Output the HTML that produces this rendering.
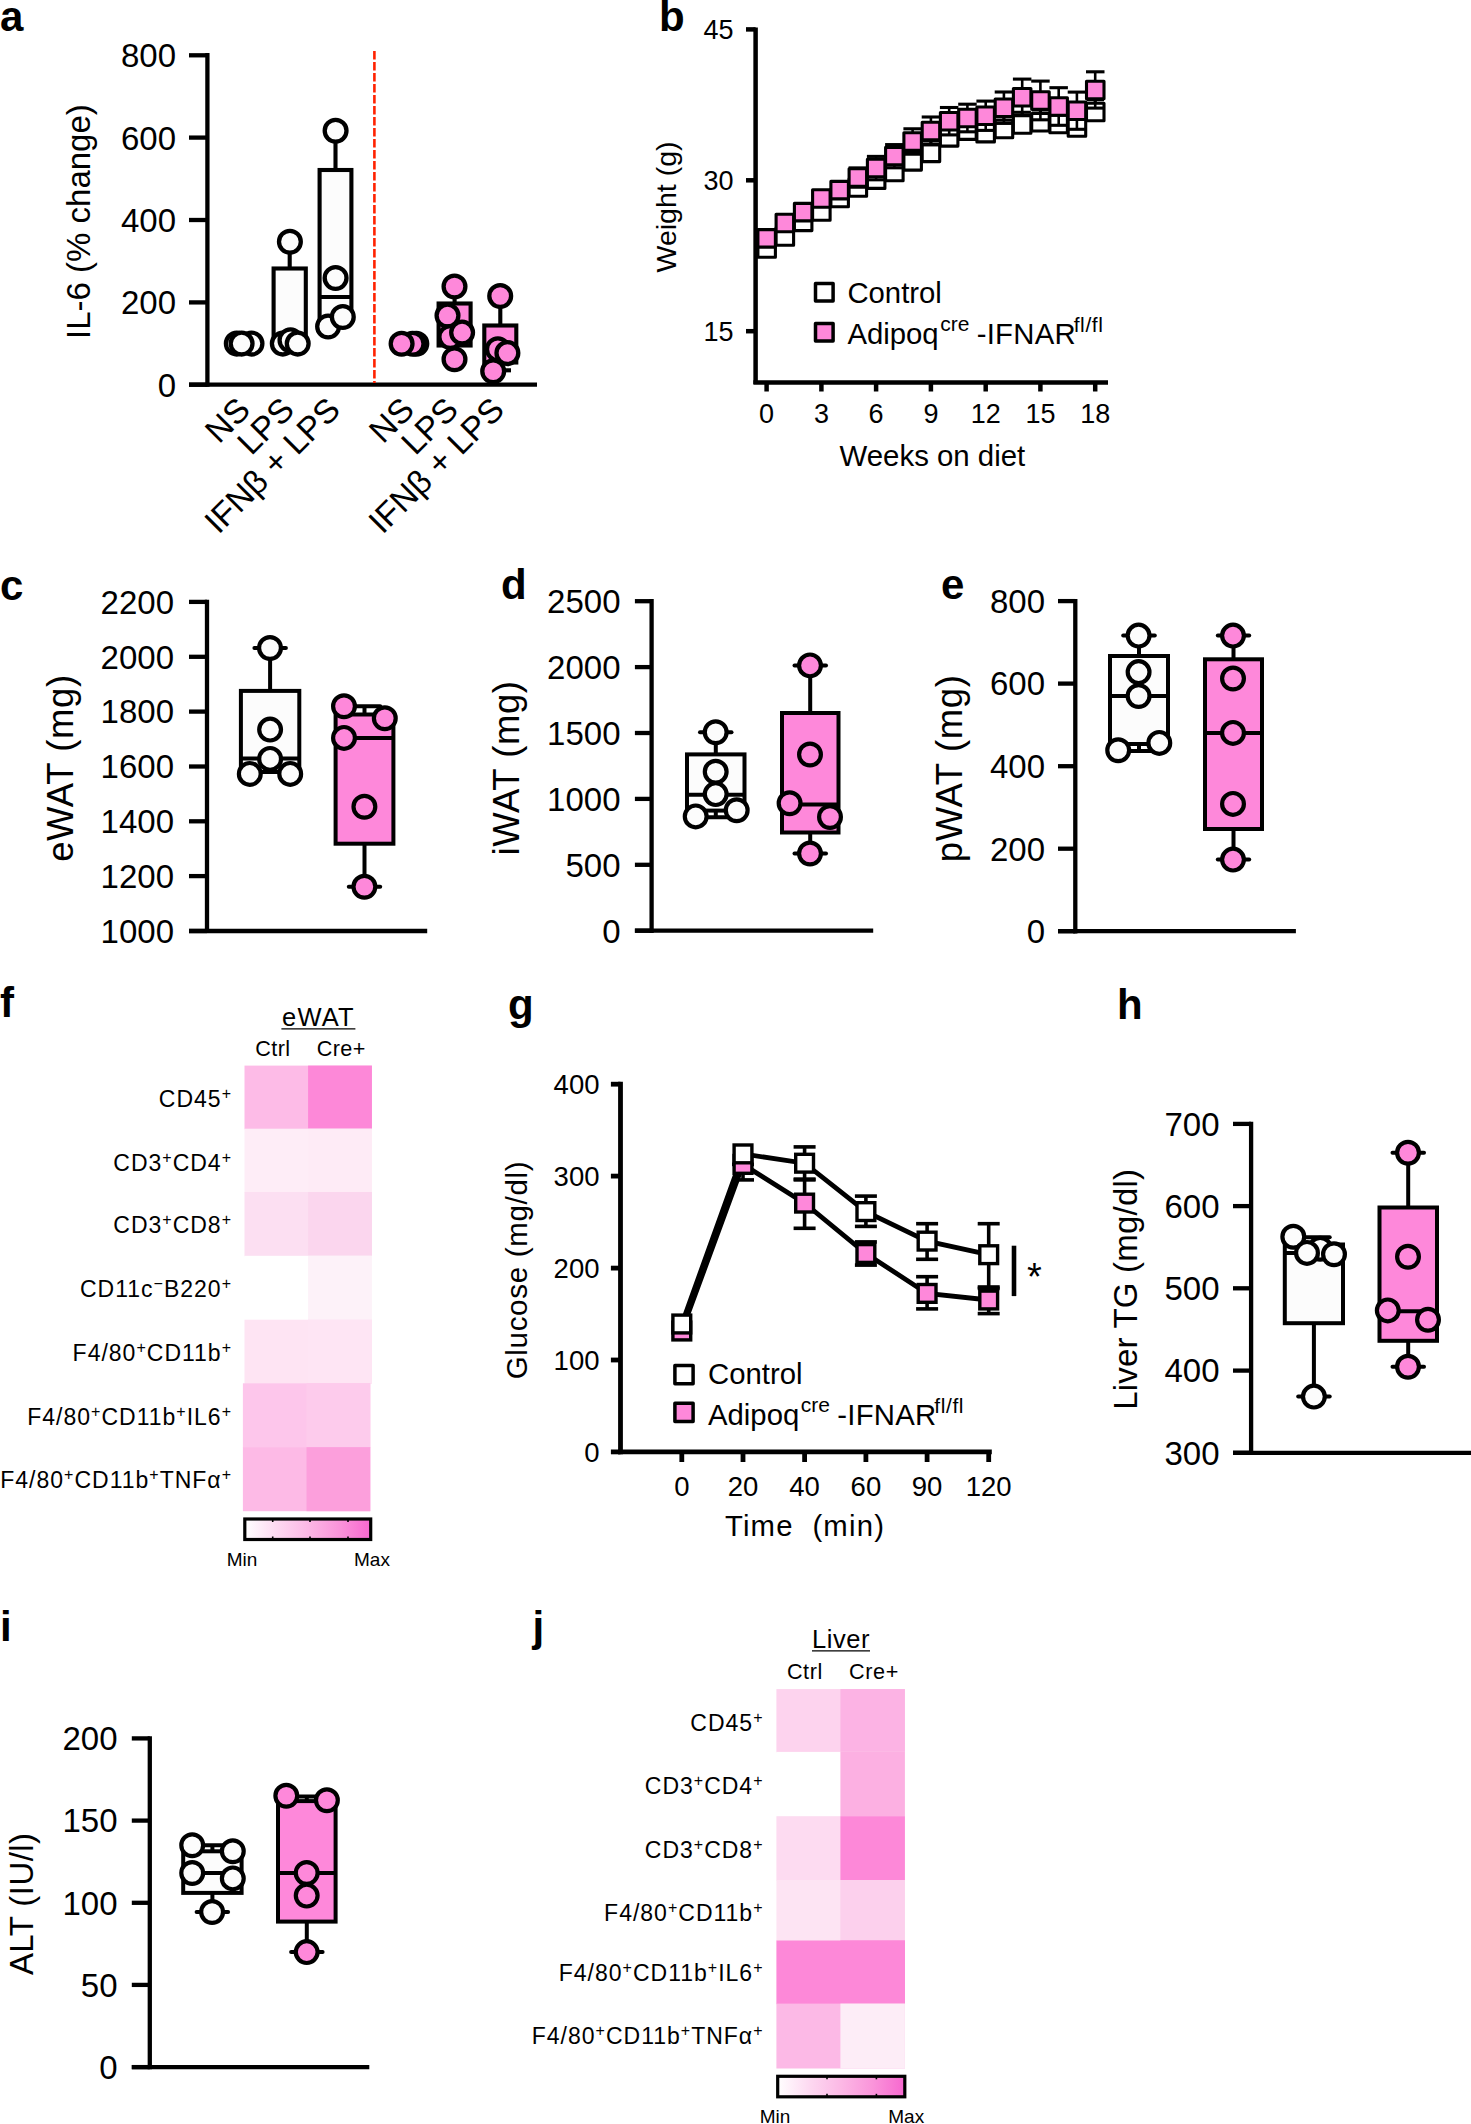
<!DOCTYPE html>
<html><head><meta charset="utf-8"><style>
html,body{margin:0;padding:0;background:#fff;}
svg{display:block;}
text{font-family:"Liberation Sans",sans-serif;fill:#000;}
</style></head><body>
<svg width="1471" height="2124" viewBox="0 0 1471 2124">
<defs><linearGradient id="cb" x1="0" x2="1" y1="0" y2="0">
<stop offset="0" stop-color="#ffffff"/><stop offset="0.25" stop-color="#fdd9f1"/><stop offset="0.5" stop-color="#fcb8e5"/><stop offset="0.75" stop-color="#fa94da"/><stop offset="1" stop-color="#f767cf"/>
</linearGradient></defs>
<rect width="1471" height="2124" fill="#fff"/>
<text x="0" y="31" font-size="42" font-weight="bold">a</text>
<line x1="207.4" y1="53.1" x2="207.4" y2="386.8" stroke="#000" stroke-width="4.3"/>
<line x1="189" y1="55.3" x2="207.4" y2="55.3" stroke="#000" stroke-width="4.3"/>
<text x="176" y="67.1" font-size="33" text-anchor="end">800</text>
<line x1="189" y1="137.6" x2="207.4" y2="137.6" stroke="#000" stroke-width="4.3"/>
<text x="176" y="149.5" font-size="33" text-anchor="end">600</text>
<line x1="189" y1="220" x2="207.4" y2="220" stroke="#000" stroke-width="4.3"/>
<text x="176" y="231.8" font-size="33" text-anchor="end">400</text>
<line x1="189" y1="302.4" x2="207.4" y2="302.4" stroke="#000" stroke-width="4.3"/>
<text x="176" y="314.2" font-size="33" text-anchor="end">200</text>
<line x1="189" y1="384.7" x2="207.4" y2="384.7" stroke="#000" stroke-width="4.3"/>
<text x="176" y="396.5" font-size="33" text-anchor="end">0</text>
<line x1="189" y1="384.7" x2="537" y2="384.7" stroke="#000" stroke-width="4.3"/>
<line x1="374.4" y1="51" x2="374.4" y2="383" stroke="#ff2200" stroke-width="2.6" stroke-dasharray="8.6,2.4"/>
<text x="90" y="221.6" font-size="33" text-anchor="middle" transform="rotate(-90 90 221.6)">IL-6 (% change)</text>
<circle cx="251.5" cy="343.6" r="10.9" fill="#fcfcfc" stroke="#000" stroke-width="4.3"/>
<circle cx="236.8" cy="343.6" r="10.9" fill="#fcfcfc" stroke="#000" stroke-width="4.3"/>
<circle cx="241.6" cy="343.6" r="10.9" fill="#fcfcfc" stroke="#000" stroke-width="4.3"/>
<line x1="289.7" y1="241.8" x2="289.7" y2="268.5" stroke="#000" stroke-width="4.1"/>
<rect x="273.6" y="268.5" width="32.2" height="75" fill="#fcfcfc" stroke="#000" stroke-width="4.1"/>
<circle cx="282.8" cy="343.6" r="10.9" fill="#fcfcfc" stroke="#000" stroke-width="4.3"/>
<circle cx="290.5" cy="340.2" r="10.9" fill="#fcfcfc" stroke="#000" stroke-width="4.3"/>
<circle cx="297.7" cy="343.6" r="10.9" fill="#fcfcfc" stroke="#000" stroke-width="4.3"/>
<circle cx="289.9" cy="241.8" r="10.9" fill="#fcfcfc" stroke="#000" stroke-width="4.3"/>
<line x1="335.5" y1="130.8" x2="335.5" y2="170" stroke="#000" stroke-width="4.1"/>
<rect x="319.6" y="170" width="31.8" height="150" fill="#fcfcfc" stroke="#000" stroke-width="4.1"/>
<line x1="319.6" y1="297" x2="351.4" y2="297" stroke="#000" stroke-width="4.1"/>
<circle cx="335.6" cy="130.8" r="10.9" fill="#fcfcfc" stroke="#000" stroke-width="4.3"/>
<circle cx="335.6" cy="278" r="10.9" fill="#fcfcfc" stroke="#000" stroke-width="4.3"/>
<circle cx="328.1" cy="326.5" r="10.9" fill="#fcfcfc" stroke="#000" stroke-width="4.3"/>
<circle cx="342.8" cy="317" r="10.9" fill="#fcfcfc" stroke="#000" stroke-width="4.3"/>
<circle cx="416.3" cy="343.7" r="10.9" fill="#fe88da" stroke="#000" stroke-width="4.3"/>
<circle cx="412.6" cy="343.7" r="10.9" fill="#fe88da" stroke="#000" stroke-width="4.3"/>
<circle cx="401.6" cy="343.7" r="10.9" fill="#fe88da" stroke="#000" stroke-width="4.3"/>
<line x1="454.6" y1="286.5" x2="454.6" y2="303.5" stroke="#000" stroke-width="4.1"/>
<line x1="454.6" y1="345.5" x2="454.6" y2="359.2" stroke="#000" stroke-width="4.1"/>
<rect x="438.6" y="303.5" width="32" height="42" fill="#fe88da" stroke="#000" stroke-width="4.1"/>
<line x1="438.6" y1="333" x2="470.6" y2="333" stroke="#000" stroke-width="4.1"/>
<circle cx="454.5" cy="286.5" r="10.9" fill="#fe88da" stroke="#000" stroke-width="4.3"/>
<circle cx="447.5" cy="315.6" r="10.9" fill="#fe88da" stroke="#000" stroke-width="4.3"/>
<circle cx="450.3" cy="337" r="10.9" fill="#fe88da" stroke="#000" stroke-width="4.3"/>
<circle cx="462.1" cy="332.6" r="10.9" fill="#fe88da" stroke="#000" stroke-width="4.3"/>
<circle cx="454.5" cy="359.2" r="10.9" fill="#fe88da" stroke="#000" stroke-width="4.3"/>
<line x1="500.3" y1="296" x2="500.3" y2="325.5" stroke="#000" stroke-width="4.1"/>
<line x1="500.3" y1="362.5" x2="500.3" y2="370.3" stroke="#000" stroke-width="4.1"/>
<rect x="484.3" y="325.5" width="32" height="37" fill="#fe88da" stroke="#000" stroke-width="4.1"/>
<line x1="484.3" y1="350" x2="516.3" y2="350" stroke="#000" stroke-width="4.1"/>
<line x1="500.3" y1="370.3" x2="511" y2="370.3" stroke="#000" stroke-width="4.1"/>
<circle cx="500.2" cy="296" r="10.9" fill="#fe88da" stroke="#000" stroke-width="4.3"/>
<circle cx="497.9" cy="349.3" r="10.9" fill="#fe88da" stroke="#000" stroke-width="4.3"/>
<circle cx="507.4" cy="353.1" r="10.9" fill="#fe88da" stroke="#000" stroke-width="4.3"/>
<circle cx="493.2" cy="371.2" r="10.9" fill="#fe88da" stroke="#000" stroke-width="4.3"/>
<text x="252" y="411.8" font-size="33.5" text-anchor="end" transform="rotate(-45 252 411.8)">NS</text>
<text x="296" y="411.8" font-size="33.5" text-anchor="end" transform="rotate(-45 296 411.8)">LPS</text>
<text x="342" y="411.8" font-size="33.5" text-anchor="end" transform="rotate(-45 342 411.8)">IFN&#946; + LPS</text>
<text x="416" y="411.8" font-size="33.5" text-anchor="end" transform="rotate(-45 416 411.8)">NS</text>
<text x="460" y="411.8" font-size="33.5" text-anchor="end" transform="rotate(-45 460 411.8)">LPS</text>
<text x="506" y="411.8" font-size="33.5" text-anchor="end" transform="rotate(-45 506 411.8)">IFN&#946; + LPS</text>
<text x="659" y="31" font-size="42" font-weight="bold">b</text>
<line x1="755.6" y1="27.6" x2="755.6" y2="383.9" stroke="#000" stroke-width="4.5"/>
<line x1="746" y1="29.4" x2="755.6" y2="29.4" stroke="#000" stroke-width="4.5"/>
<text x="733.5" y="39.1" font-size="27" text-anchor="end">45</text>
<line x1="746" y1="180.3" x2="755.6" y2="180.3" stroke="#000" stroke-width="4.5"/>
<text x="733.5" y="190" font-size="27" text-anchor="end">30</text>
<line x1="746" y1="331.2" x2="755.6" y2="331.2" stroke="#000" stroke-width="4.5"/>
<text x="733.5" y="340.9" font-size="27" text-anchor="end">15</text>
<line x1="753.4" y1="382.6" x2="1108" y2="382.6" stroke="#000" stroke-width="4.5"/>
<line x1="766.6" y1="382.6" x2="766.6" y2="391.5" stroke="#000" stroke-width="4.5"/>
<text x="766.6" y="422.5" font-size="27" text-anchor="middle">0</text>
<line x1="821.4" y1="382.6" x2="821.4" y2="391.5" stroke="#000" stroke-width="4.5"/>
<text x="821.4" y="422.5" font-size="27" text-anchor="middle">3</text>
<line x1="876.1" y1="382.6" x2="876.1" y2="391.5" stroke="#000" stroke-width="4.5"/>
<text x="876.1" y="422.5" font-size="27" text-anchor="middle">6</text>
<line x1="930.9" y1="382.6" x2="930.9" y2="391.5" stroke="#000" stroke-width="4.5"/>
<text x="930.9" y="422.5" font-size="27" text-anchor="middle">9</text>
<line x1="985.7" y1="382.6" x2="985.7" y2="391.5" stroke="#000" stroke-width="4.5"/>
<text x="985.7" y="422.5" font-size="27" text-anchor="middle">12</text>
<line x1="1040.4" y1="382.6" x2="1040.4" y2="391.5" stroke="#000" stroke-width="4.5"/>
<text x="1040.4" y="422.5" font-size="27" text-anchor="middle">15</text>
<line x1="1095.2" y1="382.6" x2="1095.2" y2="391.5" stroke="#000" stroke-width="4.5"/>
<text x="1095.2" y="422.5" font-size="27" text-anchor="middle">18</text>
<text x="932.4" y="465.6" font-size="29.4" text-anchor="middle">Weeks on diet</text>
<text x="676" y="207" font-size="28.5" text-anchor="middle" transform="rotate(-90 676 207)">Weight (g)</text>
<line x1="766.6" y1="236.2" x2="766.6" y2="248.4" stroke="#000" stroke-width="3.1"/>
<line x1="757.9" y1="236.2" x2="775.4" y2="236.2" stroke="#000" stroke-width="3.1"/>
<line x1="784.9" y1="224.3" x2="784.9" y2="236.6" stroke="#000" stroke-width="3.1"/>
<line x1="776.1" y1="224.3" x2="793.6" y2="224.3" stroke="#000" stroke-width="3.1"/>
<line x1="803.1" y1="209.6" x2="803.1" y2="221.8" stroke="#000" stroke-width="3.1"/>
<line x1="794.4" y1="209.6" x2="811.9" y2="209.6" stroke="#000" stroke-width="3.1"/>
<line x1="821.4" y1="199.2" x2="821.4" y2="211.5" stroke="#000" stroke-width="3.1"/>
<line x1="812.6" y1="199.2" x2="830.1" y2="199.2" stroke="#000" stroke-width="3.1"/>
<line x1="839.6" y1="185.8" x2="839.6" y2="198" stroke="#000" stroke-width="3.1"/>
<line x1="830.9" y1="185.8" x2="848.4" y2="185.8" stroke="#000" stroke-width="3.1"/>
<line x1="857.9" y1="175.3" x2="857.9" y2="187.6" stroke="#000" stroke-width="3.1"/>
<line x1="849.1" y1="175.3" x2="866.6" y2="175.3" stroke="#000" stroke-width="3.1"/>
<line x1="876.1" y1="167.4" x2="876.1" y2="179.7" stroke="#000" stroke-width="3.1"/>
<line x1="867.4" y1="167.4" x2="884.9" y2="167.4" stroke="#000" stroke-width="3.1"/>
<line x1="894.4" y1="159.7" x2="894.4" y2="171.9" stroke="#000" stroke-width="3.1"/>
<line x1="885.6" y1="159.7" x2="903.1" y2="159.7" stroke="#000" stroke-width="3.1"/>
<line x1="912.6" y1="149.1" x2="912.6" y2="161.3" stroke="#000" stroke-width="3.1"/>
<line x1="903.9" y1="149.1" x2="921.4" y2="149.1" stroke="#000" stroke-width="3.1"/>
<line x1="930.9" y1="140.6" x2="930.9" y2="152.8" stroke="#000" stroke-width="3.1"/>
<line x1="922.2" y1="140.6" x2="939.7" y2="140.6" stroke="#000" stroke-width="3.1"/>
<line x1="949.2" y1="125.1" x2="949.2" y2="137.3" stroke="#000" stroke-width="3.1"/>
<line x1="940.4" y1="125.1" x2="957.9" y2="125.1" stroke="#000" stroke-width="3.1"/>
<line x1="967.4" y1="118.4" x2="967.4" y2="130.7" stroke="#000" stroke-width="3.1"/>
<line x1="958.7" y1="118.4" x2="976.2" y2="118.4" stroke="#000" stroke-width="3.1"/>
<line x1="985.7" y1="120.9" x2="985.7" y2="133.2" stroke="#000" stroke-width="3.1"/>
<line x1="976.9" y1="120.9" x2="994.4" y2="120.9" stroke="#000" stroke-width="3.1"/>
<line x1="1003.9" y1="116.8" x2="1003.9" y2="129" stroke="#000" stroke-width="3.1"/>
<line x1="995.2" y1="116.8" x2="1012.7" y2="116.8" stroke="#000" stroke-width="3.1"/>
<line x1="1022.2" y1="112.3" x2="1022.2" y2="124.6" stroke="#000" stroke-width="3.1"/>
<line x1="1013.4" y1="112.3" x2="1030.9" y2="112.3" stroke="#000" stroke-width="3.1"/>
<line x1="1040.4" y1="110" x2="1040.4" y2="122.2" stroke="#000" stroke-width="3.1"/>
<line x1="1031.7" y1="110" x2="1049.2" y2="110" stroke="#000" stroke-width="3.1"/>
<line x1="1058.7" y1="111.8" x2="1058.7" y2="124.1" stroke="#000" stroke-width="3.1"/>
<line x1="1049.9" y1="111.8" x2="1067.4" y2="111.8" stroke="#000" stroke-width="3.1"/>
<line x1="1076.9" y1="115.3" x2="1076.9" y2="127.6" stroke="#000" stroke-width="3.1"/>
<line x1="1068.2" y1="115.3" x2="1085.7" y2="115.3" stroke="#000" stroke-width="3.1"/>
<line x1="1095.2" y1="99.7" x2="1095.2" y2="111.9" stroke="#000" stroke-width="3.1"/>
<line x1="1086.5" y1="99.7" x2="1104" y2="99.7" stroke="#000" stroke-width="3.1"/>
<rect x="757.9" y="239.7" width="17.5" height="17.5" fill="#fff" stroke="#000" stroke-width="3.1" stroke-linejoin="round"/>
<rect x="776.1" y="227.8" width="17.5" height="17.5" fill="#fff" stroke="#000" stroke-width="3.1" stroke-linejoin="round"/>
<rect x="794.4" y="213.1" width="17.5" height="17.5" fill="#fff" stroke="#000" stroke-width="3.1" stroke-linejoin="round"/>
<rect x="812.6" y="202.8" width="17.5" height="17.5" fill="#fff" stroke="#000" stroke-width="3.1" stroke-linejoin="round"/>
<rect x="830.9" y="189.2" width="17.5" height="17.5" fill="#fff" stroke="#000" stroke-width="3.1" stroke-linejoin="round"/>
<rect x="849.1" y="178.8" width="17.5" height="17.5" fill="#fff" stroke="#000" stroke-width="3.1" stroke-linejoin="round"/>
<rect x="867.4" y="170.9" width="17.5" height="17.5" fill="#fff" stroke="#000" stroke-width="3.1" stroke-linejoin="round"/>
<rect x="885.6" y="163.2" width="17.5" height="17.5" fill="#fff" stroke="#000" stroke-width="3.1" stroke-linejoin="round"/>
<rect x="903.9" y="152.6" width="17.5" height="17.5" fill="#fff" stroke="#000" stroke-width="3.1" stroke-linejoin="round"/>
<rect x="922.2" y="144.1" width="17.5" height="17.5" fill="#fff" stroke="#000" stroke-width="3.1" stroke-linejoin="round"/>
<rect x="940.4" y="128.6" width="17.5" height="17.5" fill="#fff" stroke="#000" stroke-width="3.1" stroke-linejoin="round"/>
<rect x="958.7" y="121.9" width="17.5" height="17.5" fill="#fff" stroke="#000" stroke-width="3.1" stroke-linejoin="round"/>
<rect x="976.9" y="124.4" width="17.5" height="17.5" fill="#fff" stroke="#000" stroke-width="3.1" stroke-linejoin="round"/>
<rect x="995.2" y="120.2" width="17.5" height="17.5" fill="#fff" stroke="#000" stroke-width="3.1" stroke-linejoin="round"/>
<rect x="1013.4" y="115.8" width="17.5" height="17.5" fill="#fff" stroke="#000" stroke-width="3.1" stroke-linejoin="round"/>
<rect x="1031.7" y="113.5" width="17.5" height="17.5" fill="#fff" stroke="#000" stroke-width="3.1" stroke-linejoin="round"/>
<rect x="1049.9" y="115.3" width="17.5" height="17.5" fill="#fff" stroke="#000" stroke-width="3.1" stroke-linejoin="round"/>
<rect x="1068.2" y="118.8" width="17.5" height="17.5" fill="#fff" stroke="#000" stroke-width="3.1" stroke-linejoin="round"/>
<rect x="1086.5" y="103.2" width="17.5" height="17.5" fill="#fff" stroke="#000" stroke-width="3.1" stroke-linejoin="round"/>
<line x1="857.9" y1="167.9" x2="857.9" y2="187.2" stroke="#000" stroke-width="2.6"/>
<line x1="848.6" y1="167.9" x2="867.1" y2="167.9" stroke="#000" stroke-width="3.1"/>
<line x1="848.6" y1="187.2" x2="867.1" y2="187.2" stroke="#000" stroke-width="3.1"/>
<line x1="876.1" y1="156.4" x2="876.1" y2="179.8" stroke="#000" stroke-width="2.6"/>
<line x1="866.9" y1="156.4" x2="885.4" y2="156.4" stroke="#000" stroke-width="3.1"/>
<line x1="866.9" y1="179.8" x2="885.4" y2="179.8" stroke="#000" stroke-width="3.1"/>
<line x1="894.4" y1="144.6" x2="894.4" y2="167.8" stroke="#000" stroke-width="2.6"/>
<line x1="885.1" y1="144.6" x2="903.6" y2="144.6" stroke="#000" stroke-width="3.1"/>
<line x1="885.1" y1="167.8" x2="903.6" y2="167.8" stroke="#000" stroke-width="3.1"/>
<line x1="912.6" y1="128.8" x2="912.6" y2="154.2" stroke="#000" stroke-width="2.6"/>
<line x1="903.4" y1="128.8" x2="921.9" y2="128.8" stroke="#000" stroke-width="3.1"/>
<line x1="903.4" y1="154.2" x2="921.9" y2="154.2" stroke="#000" stroke-width="3.1"/>
<line x1="930.9" y1="117" x2="930.9" y2="144.9" stroke="#000" stroke-width="2.6"/>
<line x1="921.7" y1="117" x2="940.2" y2="117" stroke="#000" stroke-width="3.1"/>
<line x1="921.7" y1="144.9" x2="940.2" y2="144.9" stroke="#000" stroke-width="3.1"/>
<line x1="949.2" y1="107.5" x2="949.2" y2="134.9" stroke="#000" stroke-width="2.6"/>
<line x1="939.9" y1="107.5" x2="958.4" y2="107.5" stroke="#000" stroke-width="3.1"/>
<line x1="939.9" y1="134.9" x2="958.4" y2="134.9" stroke="#000" stroke-width="3.1"/>
<line x1="967.4" y1="104.2" x2="967.4" y2="131.8" stroke="#000" stroke-width="2.6"/>
<line x1="958.2" y1="104.2" x2="976.7" y2="104.2" stroke="#000" stroke-width="3.1"/>
<line x1="958.2" y1="131.8" x2="976.7" y2="131.8" stroke="#000" stroke-width="3.1"/>
<line x1="985.7" y1="101.1" x2="985.7" y2="130.4" stroke="#000" stroke-width="2.6"/>
<line x1="976.4" y1="101.1" x2="994.9" y2="101.1" stroke="#000" stroke-width="3.1"/>
<line x1="976.4" y1="130.4" x2="994.9" y2="130.4" stroke="#000" stroke-width="3.1"/>
<line x1="1003.9" y1="92" x2="1003.9" y2="123.4" stroke="#000" stroke-width="2.6"/>
<line x1="994.7" y1="92" x2="1013.2" y2="92" stroke="#000" stroke-width="3.1"/>
<line x1="994.7" y1="123.4" x2="1013.2" y2="123.4" stroke="#000" stroke-width="3.1"/>
<line x1="1022.2" y1="79.1" x2="1022.2" y2="115.3" stroke="#000" stroke-width="2.6"/>
<line x1="1012.9" y1="79.1" x2="1031.4" y2="79.1" stroke="#000" stroke-width="3.1"/>
<line x1="1012.9" y1="115.3" x2="1031.4" y2="115.3" stroke="#000" stroke-width="3.1"/>
<line x1="1040.4" y1="81.1" x2="1040.4" y2="119.8" stroke="#000" stroke-width="2.6"/>
<line x1="1031.2" y1="81.1" x2="1049.7" y2="81.1" stroke="#000" stroke-width="3.1"/>
<line x1="1031.2" y1="119.8" x2="1049.7" y2="119.8" stroke="#000" stroke-width="3.1"/>
<line x1="1058.7" y1="87.7" x2="1058.7" y2="125.3" stroke="#000" stroke-width="2.6"/>
<line x1="1049.4" y1="87.7" x2="1067.9" y2="87.7" stroke="#000" stroke-width="3.1"/>
<line x1="1049.4" y1="125.3" x2="1067.9" y2="125.3" stroke="#000" stroke-width="3.1"/>
<line x1="1076.9" y1="92.1" x2="1076.9" y2="129.3" stroke="#000" stroke-width="2.6"/>
<line x1="1067.7" y1="92.1" x2="1086.2" y2="92.1" stroke="#000" stroke-width="3.1"/>
<line x1="1067.7" y1="129.3" x2="1086.2" y2="129.3" stroke="#000" stroke-width="3.1"/>
<line x1="1095.2" y1="71.8" x2="1095.2" y2="108.1" stroke="#000" stroke-width="2.6"/>
<line x1="1086" y1="71.8" x2="1104.5" y2="71.8" stroke="#000" stroke-width="3.1"/>
<line x1="1086" y1="108.1" x2="1104.5" y2="108.1" stroke="#000" stroke-width="3.1"/>
<rect x="757.9" y="229.6" width="17.5" height="17.5" fill="#fe88da" stroke="#000" stroke-width="3.1" stroke-linejoin="round"/>
<rect x="776.1" y="214.2" width="17.5" height="17.5" fill="#fe88da" stroke="#000" stroke-width="3.1" stroke-linejoin="round"/>
<rect x="794.4" y="203.4" width="17.5" height="17.5" fill="#fe88da" stroke="#000" stroke-width="3.1" stroke-linejoin="round"/>
<rect x="812.6" y="189.8" width="17.5" height="17.5" fill="#fe88da" stroke="#000" stroke-width="3.1" stroke-linejoin="round"/>
<rect x="830.9" y="181.4" width="17.5" height="17.5" fill="#fe88da" stroke="#000" stroke-width="3.1" stroke-linejoin="round"/>
<rect x="849.1" y="168.8" width="17.5" height="17.5" fill="#fe88da" stroke="#000" stroke-width="3.1" stroke-linejoin="round"/>
<rect x="867.4" y="159.3" width="17.5" height="17.5" fill="#fe88da" stroke="#000" stroke-width="3.1" stroke-linejoin="round"/>
<rect x="885.6" y="147.4" width="17.5" height="17.5" fill="#fe88da" stroke="#000" stroke-width="3.1" stroke-linejoin="round"/>
<rect x="903.9" y="132.8" width="17.5" height="17.5" fill="#fe88da" stroke="#000" stroke-width="3.1" stroke-linejoin="round"/>
<rect x="922.2" y="122.2" width="17.5" height="17.5" fill="#fe88da" stroke="#000" stroke-width="3.1" stroke-linejoin="round"/>
<rect x="940.4" y="112.5" width="17.5" height="17.5" fill="#fe88da" stroke="#000" stroke-width="3.1" stroke-linejoin="round"/>
<rect x="958.7" y="109.2" width="17.5" height="17.5" fill="#fe88da" stroke="#000" stroke-width="3.1" stroke-linejoin="round"/>
<rect x="976.9" y="107" width="17.5" height="17.5" fill="#fe88da" stroke="#000" stroke-width="3.1" stroke-linejoin="round"/>
<rect x="995.2" y="99" width="17.5" height="17.5" fill="#fe88da" stroke="#000" stroke-width="3.1" stroke-linejoin="round"/>
<rect x="1013.4" y="88.5" width="17.5" height="17.5" fill="#fe88da" stroke="#000" stroke-width="3.1" stroke-linejoin="round"/>
<rect x="1031.7" y="91.7" width="17.5" height="17.5" fill="#fe88da" stroke="#000" stroke-width="3.1" stroke-linejoin="round"/>
<rect x="1049.9" y="97.8" width="17.5" height="17.5" fill="#fe88da" stroke="#000" stroke-width="3.1" stroke-linejoin="round"/>
<rect x="1068.2" y="102" width="17.5" height="17.5" fill="#fe88da" stroke="#000" stroke-width="3.1" stroke-linejoin="round"/>
<rect x="1086.5" y="81.2" width="17.5" height="17.5" fill="#fe88da" stroke="#000" stroke-width="3.1" stroke-linejoin="round"/>
<rect x="815.5" y="283.4" width="17.6" height="17.6" fill="#fff" stroke="#000" stroke-width="3.5" stroke-linejoin="round"/>
<rect x="815.5" y="323.4" width="17.6" height="17.6" fill="#fe88da" stroke="#000" stroke-width="3.5" stroke-linejoin="round"/>
<text x="847.4" y="303.1" font-size="29.3">Control</text>
<text x="847.4" y="343.8" font-size="29.3">Adipoq</text>
<text x="940.2" y="331.3" font-size="21">cre</text>
<text x="976.7" y="343.8" font-size="29.3" letter-spacing="0.25">-IFNAR</text>
<text x="1073.7" y="331.8" font-size="21" letter-spacing="0.6">fl/fl</text>
<text x="0" y="599.5" font-size="42" font-weight="bold">c</text>
<line x1="207" y1="599.8" x2="207" y2="933.1" stroke="#000" stroke-width="4.3"/>
<line x1="189" y1="601.9" x2="207" y2="601.9" stroke="#000" stroke-width="4.3"/>
<text x="174" y="613.7" font-size="33" text-anchor="end">2200</text>
<line x1="189" y1="656.8" x2="207" y2="656.8" stroke="#000" stroke-width="4.3"/>
<text x="174" y="668.6" font-size="33" text-anchor="end">2000</text>
<line x1="189" y1="711.6" x2="207" y2="711.6" stroke="#000" stroke-width="4.3"/>
<text x="174" y="723.4" font-size="33" text-anchor="end">1800</text>
<line x1="189" y1="766.5" x2="207" y2="766.5" stroke="#000" stroke-width="4.3"/>
<text x="174" y="778.3" font-size="33" text-anchor="end">1600</text>
<line x1="189" y1="821.3" x2="207" y2="821.3" stroke="#000" stroke-width="4.3"/>
<text x="174" y="833.1" font-size="33" text-anchor="end">1400</text>
<line x1="189" y1="876.1" x2="207" y2="876.1" stroke="#000" stroke-width="4.3"/>
<text x="174" y="888" font-size="33" text-anchor="end">1200</text>
<line x1="189" y1="931" x2="207" y2="931" stroke="#000" stroke-width="4.3"/>
<text x="174" y="942.8" font-size="33" text-anchor="end">1000</text>
<line x1="189" y1="931" x2="427.2" y2="931" stroke="#000" stroke-width="4.3"/>
<text x="73" y="768" font-size="36.5" text-anchor="middle" transform="rotate(-90 73 768)" letter-spacing="0.65">eWAT (mg)</text>
<line x1="270.1" y1="648" x2="270.1" y2="690.9" stroke="#000" stroke-width="4"/>
<line x1="254.4" y1="648" x2="285.9" y2="648" stroke="#000" stroke-width="4" stroke-linecap="round"/>
<rect x="240.9" y="690.9" width="58.4" height="81.1" fill="#fcfcfc" stroke="#000" stroke-width="4"/>
<line x1="240.9" y1="758.5" x2="299.3" y2="758.5" stroke="#000" stroke-width="4"/>
<circle cx="270" cy="648" r="10.9" fill="#fcfcfc" stroke="#000" stroke-width="4.2"/>
<circle cx="270.1" cy="729.6" r="10.9" fill="#fcfcfc" stroke="#000" stroke-width="4.2"/>
<circle cx="270.1" cy="758.9" r="10.9" fill="#fcfcfc" stroke="#000" stroke-width="4.2"/>
<circle cx="249.8" cy="773.9" r="10.9" fill="#fcfcfc" stroke="#000" stroke-width="4.2"/>
<circle cx="290.2" cy="773.9" r="10.9" fill="#fcfcfc" stroke="#000" stroke-width="4.2"/>
<line x1="364.5" y1="706.3" x2="364.5" y2="714.5" stroke="#000" stroke-width="4"/>
<line x1="348.8" y1="706.3" x2="380.2" y2="706.3" stroke="#000" stroke-width="4" stroke-linecap="round"/>
<line x1="364.5" y1="843.7" x2="364.5" y2="886.7" stroke="#000" stroke-width="4"/>
<line x1="348.8" y1="886.7" x2="380.2" y2="886.7" stroke="#000" stroke-width="4" stroke-linecap="round"/>
<rect x="335.6" y="714.5" width="57.8" height="129.2" fill="#fe88da" stroke="#000" stroke-width="4"/>
<line x1="335.6" y1="738.1" x2="393.4" y2="738.1" stroke="#000" stroke-width="4"/>
<circle cx="344" cy="706.3" r="10.9" fill="#fe88da" stroke="#000" stroke-width="4.2"/>
<circle cx="384.8" cy="718.3" r="10.9" fill="#fe88da" stroke="#000" stroke-width="4.2"/>
<circle cx="344" cy="737.9" r="10.9" fill="#fe88da" stroke="#000" stroke-width="4.2"/>
<circle cx="364.4" cy="806.8" r="10.9" fill="#fe88da" stroke="#000" stroke-width="4.2"/>
<circle cx="364.4" cy="886.7" r="10.9" fill="#fe88da" stroke="#000" stroke-width="4.2"/>
<text x="501" y="599" font-size="42" font-weight="bold">d</text>
<line x1="651.6" y1="599.1" x2="651.6" y2="932.9" stroke="#000" stroke-width="4.3"/>
<line x1="634.9" y1="601.2" x2="651.6" y2="601.2" stroke="#000" stroke-width="4.3"/>
<text x="620.5" y="613" font-size="33" text-anchor="end">2500</text>
<line x1="634.9" y1="667.1" x2="651.6" y2="667.1" stroke="#000" stroke-width="4.3"/>
<text x="620.5" y="678.9" font-size="33" text-anchor="end">2000</text>
<line x1="634.9" y1="733" x2="651.6" y2="733" stroke="#000" stroke-width="4.3"/>
<text x="620.5" y="744.8" font-size="33" text-anchor="end">1500</text>
<line x1="634.9" y1="798.9" x2="651.6" y2="798.9" stroke="#000" stroke-width="4.3"/>
<text x="620.5" y="810.7" font-size="33" text-anchor="end">1000</text>
<line x1="634.9" y1="864.8" x2="651.6" y2="864.8" stroke="#000" stroke-width="4.3"/>
<text x="620.5" y="876.6" font-size="33" text-anchor="end">500</text>
<line x1="634.9" y1="930.7" x2="651.6" y2="930.7" stroke="#000" stroke-width="4.3"/>
<text x="620.5" y="942.5" font-size="33" text-anchor="end">0</text>
<line x1="634.9" y1="930.7" x2="873.2" y2="930.7" stroke="#000" stroke-width="4.3"/>
<text x="519.3" y="767.9" font-size="36.5" text-anchor="middle" transform="rotate(-90 519.3 767.9)" letter-spacing="0.6">iWAT (mg)</text>
<line x1="715.8" y1="732.2" x2="715.8" y2="754.4" stroke="#000" stroke-width="4"/>
<line x1="700" y1="732.2" x2="731.5" y2="732.2" stroke="#000" stroke-width="4" stroke-linecap="round"/>
<line x1="715.8" y1="810.6" x2="715.8" y2="817.2" stroke="#000" stroke-width="4"/>
<line x1="700" y1="817.2" x2="731.5" y2="817.2" stroke="#000" stroke-width="4" stroke-linecap="round"/>
<rect x="687" y="754.4" width="57.5" height="56.2" fill="#fcfcfc" stroke="#000" stroke-width="4"/>
<line x1="687" y1="794.8" x2="744.5" y2="794.8" stroke="#000" stroke-width="4"/>
<circle cx="715.7" cy="732.2" r="10.9" fill="#fcfcfc" stroke="#000" stroke-width="4.2"/>
<circle cx="715.7" cy="771.8" r="10.9" fill="#fcfcfc" stroke="#000" stroke-width="4.2"/>
<circle cx="715.7" cy="794.1" r="10.9" fill="#fcfcfc" stroke="#000" stroke-width="4.2"/>
<circle cx="695.7" cy="816.4" r="10.9" fill="#fcfcfc" stroke="#000" stroke-width="4.2"/>
<circle cx="736.7" cy="810.3" r="10.9" fill="#fcfcfc" stroke="#000" stroke-width="4.2"/>
<line x1="810.2" y1="665.4" x2="810.2" y2="713" stroke="#000" stroke-width="4"/>
<line x1="794.5" y1="665.4" x2="826" y2="665.4" stroke="#000" stroke-width="4" stroke-linecap="round"/>
<line x1="810.2" y1="832.5" x2="810.2" y2="853.5" stroke="#000" stroke-width="4"/>
<line x1="794.5" y1="853.5" x2="826" y2="853.5" stroke="#000" stroke-width="4" stroke-linecap="round"/>
<rect x="782" y="713" width="56.5" height="119.5" fill="#fe88da" stroke="#000" stroke-width="4"/>
<line x1="782" y1="804.4" x2="838.5" y2="804.4" stroke="#000" stroke-width="4"/>
<circle cx="810" cy="665.4" r="10.9" fill="#fe88da" stroke="#000" stroke-width="4.2"/>
<circle cx="810" cy="754.5" r="10.9" fill="#fe88da" stroke="#000" stroke-width="4.2"/>
<circle cx="789.6" cy="803.3" r="10.9" fill="#fe88da" stroke="#000" stroke-width="4.2"/>
<circle cx="830" cy="817" r="10.9" fill="#fe88da" stroke="#000" stroke-width="4.2"/>
<circle cx="810" cy="853.5" r="10.9" fill="#fe88da" stroke="#000" stroke-width="4.2"/>
<text x="941" y="599.3" font-size="42" font-weight="bold">e</text>
<line x1="1075.3" y1="599" x2="1075.3" y2="933.4" stroke="#000" stroke-width="4.3"/>
<line x1="1058" y1="601.1" x2="1075.3" y2="601.1" stroke="#000" stroke-width="4.3"/>
<text x="1045" y="612.9" font-size="33" text-anchor="end">800</text>
<line x1="1058" y1="683.6" x2="1075.3" y2="683.6" stroke="#000" stroke-width="4.3"/>
<text x="1045" y="695.4" font-size="33" text-anchor="end">600</text>
<line x1="1058" y1="766.2" x2="1075.3" y2="766.2" stroke="#000" stroke-width="4.3"/>
<text x="1045" y="778" font-size="33" text-anchor="end">400</text>
<line x1="1058" y1="848.7" x2="1075.3" y2="848.7" stroke="#000" stroke-width="4.3"/>
<text x="1045" y="860.5" font-size="33" text-anchor="end">200</text>
<line x1="1058" y1="931.2" x2="1075.3" y2="931.2" stroke="#000" stroke-width="4.3"/>
<text x="1045" y="943" font-size="33" text-anchor="end">0</text>
<line x1="1058" y1="931.2" x2="1295.9" y2="931.2" stroke="#000" stroke-width="4.3"/>
<text x="961.8" y="768.3" font-size="36.5" text-anchor="middle" transform="rotate(-90 961.8 768.3)" letter-spacing="0.65">pWAT (mg)</text>
<line x1="1139" y1="635.6" x2="1139" y2="656" stroke="#000" stroke-width="4"/>
<line x1="1123.2" y1="635.6" x2="1154.8" y2="635.6" stroke="#000" stroke-width="4" stroke-linecap="round"/>
<line x1="1139" y1="744" x2="1139" y2="751" stroke="#000" stroke-width="4"/>
<line x1="1123.2" y1="751" x2="1154.8" y2="751" stroke="#000" stroke-width="4" stroke-linecap="round"/>
<rect x="1110" y="656" width="58" height="88" fill="#fcfcfc" stroke="#000" stroke-width="4"/>
<line x1="1110" y1="696" x2="1168" y2="696" stroke="#000" stroke-width="4"/>
<circle cx="1138.6" cy="635.6" r="10.9" fill="#fcfcfc" stroke="#000" stroke-width="4.2"/>
<circle cx="1138.6" cy="672.1" r="10.9" fill="#fcfcfc" stroke="#000" stroke-width="4.2"/>
<circle cx="1138.6" cy="696" r="10.9" fill="#fcfcfc" stroke="#000" stroke-width="4.2"/>
<circle cx="1118.2" cy="750.3" r="10.9" fill="#fcfcfc" stroke="#000" stroke-width="4.2"/>
<circle cx="1159.3" cy="742.9" r="10.9" fill="#fcfcfc" stroke="#000" stroke-width="4.2"/>
<line x1="1233.5" y1="635.6" x2="1233.5" y2="659.3" stroke="#000" stroke-width="4"/>
<line x1="1217.8" y1="635.6" x2="1249.2" y2="635.6" stroke="#000" stroke-width="4" stroke-linecap="round"/>
<line x1="1233.5" y1="829" x2="1233.5" y2="859.6" stroke="#000" stroke-width="4"/>
<line x1="1217.8" y1="859.6" x2="1249.2" y2="859.6" stroke="#000" stroke-width="4" stroke-linecap="round"/>
<rect x="1205" y="659.3" width="57" height="169.7" fill="#fe88da" stroke="#000" stroke-width="4"/>
<line x1="1205" y1="732.9" x2="1262" y2="732.9" stroke="#000" stroke-width="4"/>
<circle cx="1233" cy="635.6" r="10.9" fill="#fe88da" stroke="#000" stroke-width="4.2"/>
<circle cx="1233" cy="678.5" r="10.9" fill="#fe88da" stroke="#000" stroke-width="4.2"/>
<circle cx="1233" cy="732.9" r="10.9" fill="#fe88da" stroke="#000" stroke-width="4.2"/>
<circle cx="1233" cy="803.9" r="10.9" fill="#fe88da" stroke="#000" stroke-width="4.2"/>
<circle cx="1233" cy="859.6" r="10.9" fill="#fe88da" stroke="#000" stroke-width="4.2"/>
<text x="0" y="1017" font-size="42" font-weight="bold">f</text>
<rect x="244.5" y="1065.6" width="127.4" height="63.7" fill="#fdbbe7"/>
<rect x="308.1" y="1065.6" width="63.8" height="63.7" fill="#fd88d8"/>
<text x="232" y="1107" font-size="23" text-anchor="end" letter-spacing="1"><tspan dy="0">CD45</tspan><tspan font-size="16" dy="-8">+</tspan></text>
<rect x="244.5" y="1128.7" width="127.4" height="63.9" fill="#feedf7"/>
<rect x="308.1" y="1128.7" width="63.8" height="63.9" fill="#feebf6"/>
<text x="232" y="1170.8" font-size="23" text-anchor="end" letter-spacing="1"><tspan dy="0">CD3</tspan><tspan font-size="16" dy="-8">+</tspan><tspan dy="8">CD4</tspan><tspan font-size="16" dy="-8">+</tspan></text>
<rect x="244.5" y="1192" width="127.4" height="64.4" fill="#fcdff2"/>
<rect x="308.1" y="1192" width="63.8" height="64.4" fill="#fbd6ee"/>
<text x="232" y="1233.4" font-size="23" text-anchor="end" letter-spacing="1"><tspan dy="0">CD3</tspan><tspan font-size="16" dy="-8">+</tspan><tspan dy="8">CD8</tspan><tspan font-size="16" dy="-8">+</tspan></text>
<rect x="244.5" y="1255.8" width="127.4" height="64.5" fill="#ffffff"/>
<rect x="308.1" y="1255.8" width="63.8" height="64.5" fill="#fdf2f9"/>
<text x="232" y="1297.1" font-size="23" text-anchor="end" letter-spacing="1"><tspan dy="0">CD11c</tspan><tspan font-size="16" dy="-8">&#8722;</tspan><tspan dy="8">B220</tspan><tspan font-size="16" dy="-8">+</tspan></text>
<rect x="244.5" y="1319.7" width="127.4" height="64.2" fill="#fee4f3"/>
<rect x="308.1" y="1319.7" width="63.8" height="64.2" fill="#fee5f4"/>
<text x="232" y="1360.5" font-size="23" text-anchor="end" letter-spacing="1"><tspan dy="0">F4/80</tspan><tspan font-size="16" dy="-8">+</tspan><tspan dy="8">CD11b</tspan><tspan font-size="16" dy="-8">+</tspan></text>
<rect x="242.9" y="1383.3" width="127.4" height="64.5" fill="#fdc6eb"/>
<rect x="306.5" y="1383.3" width="63.8" height="64.5" fill="#fdcbec"/>
<text x="232" y="1425" font-size="23" text-anchor="end" letter-spacing="1"><tspan dy="0">F4/80</tspan><tspan font-size="16" dy="-8">+</tspan><tspan dy="8">CD11b</tspan><tspan font-size="16" dy="-8">+</tspan><tspan dy="8">IL6</tspan><tspan font-size="16" dy="-8">+</tspan></text>
<rect x="242.9" y="1447.2" width="127.4" height="64" fill="#fdbae6"/>
<rect x="306.5" y="1447.2" width="63.8" height="64" fill="#fc9fdc"/>
<text x="232" y="1488" font-size="23" text-anchor="end" letter-spacing="1"><tspan dy="0">F4/80</tspan><tspan font-size="16" dy="-8">+</tspan><tspan dy="8">CD11b</tspan><tspan font-size="16" dy="-8">+</tspan><tspan dy="8">TNF&#945;</tspan><tspan font-size="16" dy="-8">+</tspan></text>
<text x="318.5" y="1026" font-size="25.5" text-anchor="middle" letter-spacing="1.2">eWAT</text>
<line x1="281.4" y1="1028.8" x2="355.4" y2="1028.8" stroke="#000" stroke-width="1.3"/>
<text x="272.9" y="1056" font-size="21.6" text-anchor="middle" letter-spacing="0.4">Ctrl</text>
<text x="341.2" y="1056" font-size="21.6" text-anchor="middle" letter-spacing="0.4">Cre+</text>
<rect x="244.8" y="1519" width="125.9" height="20.5" fill="url(#cb)" stroke="#000" stroke-width="3.2"/>
<line x1="272.7" y1="1519" x2="272.7" y2="1522" stroke="#000" stroke-width="1.6"/>
<line x1="272.7" y1="1536.5" x2="272.7" y2="1539.5" stroke="#000" stroke-width="1.6"/>
<line x1="310" y1="1519" x2="310" y2="1522" stroke="#000" stroke-width="1.6"/>
<line x1="310" y1="1536.5" x2="310" y2="1539.5" stroke="#000" stroke-width="1.6"/>
<line x1="348" y1="1519" x2="348" y2="1522" stroke="#000" stroke-width="1.6"/>
<line x1="348" y1="1536.5" x2="348" y2="1539.5" stroke="#000" stroke-width="1.6"/>
<text x="242" y="1565.7" font-size="19" text-anchor="middle">Min</text>
<text x="372" y="1565.7" font-size="19" text-anchor="middle">Max</text>
<text x="508" y="1019" font-size="42" font-weight="bold">g</text>
<line x1="620.5" y1="1081.8" x2="620.5" y2="1454.3" stroke="#000" stroke-width="4.8"/>
<line x1="610.9" y1="1084.2" x2="620.5" y2="1084.2" stroke="#000" stroke-width="4.8"/>
<text x="599.5" y="1094" font-size="27.5" text-anchor="end">400</text>
<line x1="610.9" y1="1176.1" x2="620.5" y2="1176.1" stroke="#000" stroke-width="4.8"/>
<text x="599.5" y="1186" font-size="27.5" text-anchor="end">300</text>
<line x1="610.9" y1="1268.1" x2="620.5" y2="1268.1" stroke="#000" stroke-width="4.8"/>
<text x="599.5" y="1277.9" font-size="27.5" text-anchor="end">200</text>
<line x1="610.9" y1="1360" x2="620.5" y2="1360" stroke="#000" stroke-width="4.8"/>
<text x="599.5" y="1369.8" font-size="27.5" text-anchor="end">100</text>
<line x1="610.9" y1="1451.9" x2="620.5" y2="1451.9" stroke="#000" stroke-width="4.8"/>
<text x="599.5" y="1461.7" font-size="27.5" text-anchor="end">0</text>
<line x1="618.1" y1="1451.9" x2="991.8" y2="1451.9" stroke="#000" stroke-width="4.8"/>
<line x1="681.8" y1="1451.9" x2="681.8" y2="1462" stroke="#000" stroke-width="4.8"/>
<text x="681.8" y="1495.7" font-size="27.5" text-anchor="middle">0</text>
<line x1="743" y1="1451.9" x2="743" y2="1462" stroke="#000" stroke-width="4.8"/>
<text x="743" y="1495.7" font-size="27.5" text-anchor="middle">20</text>
<line x1="804.6" y1="1451.9" x2="804.6" y2="1462" stroke="#000" stroke-width="4.8"/>
<text x="804.6" y="1495.7" font-size="27.5" text-anchor="middle">40</text>
<line x1="865.9" y1="1451.9" x2="865.9" y2="1462" stroke="#000" stroke-width="4.8"/>
<text x="865.9" y="1495.7" font-size="27.5" text-anchor="middle">60</text>
<line x1="927.1" y1="1451.9" x2="927.1" y2="1462" stroke="#000" stroke-width="4.8"/>
<text x="927.1" y="1495.7" font-size="27.5" text-anchor="middle">90</text>
<line x1="988.7" y1="1451.9" x2="988.7" y2="1462" stroke="#000" stroke-width="4.8"/>
<text x="988.7" y="1495.7" font-size="27.5" text-anchor="middle">120</text>
<text x="805" y="1536.4" font-size="29.3" text-anchor="middle" letter-spacing="1.2">Time&#160; (min)</text>
<text x="526.8" y="1270" font-size="29.5" text-anchor="middle" transform="rotate(-90 526.8 1270)" letter-spacing="0.7">Glucose (mg/dl)</text>
<polyline points="681.8,1331 743,1164.4 804.6,1203.1 865.9,1253.5 927.1,1293.4 988.7,1300" fill="none" stroke="#000" stroke-width="4.8"/>
<polyline points="681.8,1324 743,1153.9 804.6,1163.2 865.9,1211.6 927.1,1241.1 988.7,1254.7" fill="none" stroke="#000" stroke-width="4.8"/>
<line x1="743" y1="1164.4" x2="743" y2="1179.9" stroke="#000" stroke-width="3.6"/>
<line x1="732" y1="1164.4" x2="754" y2="1164.4" stroke="#000" stroke-width="3.6"/>
<line x1="732" y1="1179.9" x2="754" y2="1179.9" stroke="#000" stroke-width="3.6"/>
<line x1="804.6" y1="1179.1" x2="804.6" y2="1228.3" stroke="#000" stroke-width="3.6"/>
<line x1="793.6" y1="1179.1" x2="815.6" y2="1179.1" stroke="#000" stroke-width="3.6"/>
<line x1="793.6" y1="1228.3" x2="815.6" y2="1228.3" stroke="#000" stroke-width="3.6"/>
<line x1="865.9" y1="1241.9" x2="865.9" y2="1265.1" stroke="#000" stroke-width="3.6"/>
<line x1="854.9" y1="1241.9" x2="876.9" y2="1241.9" stroke="#000" stroke-width="3.6"/>
<line x1="854.9" y1="1265.1" x2="876.9" y2="1265.1" stroke="#000" stroke-width="3.6"/>
<line x1="927.1" y1="1276.7" x2="927.1" y2="1308.9" stroke="#000" stroke-width="3.6"/>
<line x1="916.1" y1="1276.7" x2="938.1" y2="1276.7" stroke="#000" stroke-width="3.6"/>
<line x1="916.1" y1="1308.9" x2="938.1" y2="1308.9" stroke="#000" stroke-width="3.6"/>
<line x1="988.7" y1="1288.4" x2="988.7" y2="1313.6" stroke="#000" stroke-width="3.6"/>
<line x1="977.7" y1="1288.4" x2="999.7" y2="1288.4" stroke="#000" stroke-width="3.6"/>
<line x1="977.7" y1="1313.6" x2="999.7" y2="1313.6" stroke="#000" stroke-width="3.6"/>
<line x1="804.6" y1="1146.9" x2="804.6" y2="1179.9" stroke="#000" stroke-width="3.6"/>
<line x1="793.6" y1="1146.9" x2="815.6" y2="1146.9" stroke="#000" stroke-width="3.6"/>
<line x1="793.6" y1="1179.9" x2="815.6" y2="1179.9" stroke="#000" stroke-width="3.6"/>
<line x1="865.9" y1="1196.1" x2="865.9" y2="1226.4" stroke="#000" stroke-width="3.6"/>
<line x1="854.9" y1="1196.1" x2="876.9" y2="1196.1" stroke="#000" stroke-width="3.6"/>
<line x1="854.9" y1="1226.4" x2="876.9" y2="1226.4" stroke="#000" stroke-width="3.6"/>
<line x1="927.1" y1="1223.7" x2="927.1" y2="1259.3" stroke="#000" stroke-width="3.6"/>
<line x1="916.1" y1="1223.7" x2="938.1" y2="1223.7" stroke="#000" stroke-width="3.6"/>
<line x1="916.1" y1="1259.3" x2="938.1" y2="1259.3" stroke="#000" stroke-width="3.6"/>
<line x1="988.7" y1="1223.7" x2="988.7" y2="1287" stroke="#000" stroke-width="3.6"/>
<line x1="977.7" y1="1223.7" x2="999.7" y2="1223.7" stroke="#000" stroke-width="3.6"/>
<line x1="977.7" y1="1287" x2="999.7" y2="1287" stroke="#000" stroke-width="3.6"/>
<rect x="672.9" y="1322.1" width="17.8" height="17.8" fill="#fe88da" stroke="#000" stroke-width="3.4"/>
<rect x="734.1" y="1155.5" width="17.8" height="17.8" fill="#fe88da" stroke="#000" stroke-width="3.4"/>
<rect x="795.7" y="1194.2" width="17.8" height="17.8" fill="#fe88da" stroke="#000" stroke-width="3.4"/>
<rect x="857" y="1244.6" width="17.8" height="17.8" fill="#fe88da" stroke="#000" stroke-width="3.4"/>
<rect x="918.2" y="1284.5" width="17.8" height="17.8" fill="#fe88da" stroke="#000" stroke-width="3.4"/>
<rect x="979.8" y="1291.1" width="17.8" height="17.8" fill="#fe88da" stroke="#000" stroke-width="3.4"/>
<rect x="672.9" y="1315.1" width="17.8" height="17.8" fill="#ffffff" stroke="#000" stroke-width="3.4"/>
<rect x="734.1" y="1145" width="17.8" height="17.8" fill="#ffffff" stroke="#000" stroke-width="3.4"/>
<rect x="795.7" y="1154.3" width="17.8" height="17.8" fill="#ffffff" stroke="#000" stroke-width="3.4"/>
<rect x="857" y="1202.7" width="17.8" height="17.8" fill="#ffffff" stroke="#000" stroke-width="3.4"/>
<rect x="918.2" y="1232.2" width="17.8" height="17.8" fill="#ffffff" stroke="#000" stroke-width="3.4"/>
<rect x="979.8" y="1245.8" width="17.8" height="17.8" fill="#ffffff" stroke="#000" stroke-width="3.4"/>
<line x1="1014" y1="1245.7" x2="1014" y2="1296.1" stroke="#000" stroke-width="4.6"/>
<text x="1034.5" y="1289.5" font-size="38" text-anchor="middle">*</text>
<rect x="674.9" y="1365.5" width="18.2" height="18.2" fill="#fff" stroke="#000" stroke-width="3.5" stroke-linejoin="round"/>
<rect x="674.9" y="1403.3" width="18.2" height="18.2" fill="#fe88da" stroke="#000" stroke-width="3.5" stroke-linejoin="round"/>
<text x="708" y="1383.7" font-size="29.3">Control</text>
<text x="708" y="1424.8" font-size="29.3">Adipoq</text>
<text x="800.8" y="1412.3" font-size="21">cre</text>
<text x="837.3" y="1424.8" font-size="29.3" letter-spacing="0.25">-IFNAR</text>
<text x="934.3" y="1412.8" font-size="21" letter-spacing="0.6">fl/fl</text>
<text x="1117" y="1018.5" font-size="42" font-weight="bold">h</text>
<line x1="1251.1" y1="1121.8" x2="1251.1" y2="1455" stroke="#000" stroke-width="4.3"/>
<line x1="1233" y1="1123.9" x2="1251.1" y2="1123.9" stroke="#000" stroke-width="4.3"/>
<text x="1219.5" y="1135.7" font-size="33" text-anchor="end">700</text>
<line x1="1233" y1="1206.1" x2="1251.1" y2="1206.1" stroke="#000" stroke-width="4.3"/>
<text x="1219.5" y="1217.9" font-size="33" text-anchor="end">600</text>
<line x1="1233" y1="1288.3" x2="1251.1" y2="1288.3" stroke="#000" stroke-width="4.3"/>
<text x="1219.5" y="1300.2" font-size="33" text-anchor="end">500</text>
<line x1="1233" y1="1370.6" x2="1251.1" y2="1370.6" stroke="#000" stroke-width="4.3"/>
<text x="1219.5" y="1382.4" font-size="33" text-anchor="end">400</text>
<line x1="1233" y1="1452.8" x2="1251.1" y2="1452.8" stroke="#000" stroke-width="4.3"/>
<text x="1219.5" y="1464.6" font-size="33" text-anchor="end">300</text>
<line x1="1233" y1="1452.8" x2="1471" y2="1452.8" stroke="#000" stroke-width="4.3"/>
<text x="1136.6" y="1289.3" font-size="33" text-anchor="middle" transform="rotate(-90 1136.6 1289.3)" letter-spacing="0.2">Liver TG (mg/dl)</text>
<line x1="1313.9" y1="1237.3" x2="1313.9" y2="1244.5" stroke="#000" stroke-width="4"/>
<line x1="1298.2" y1="1237.3" x2="1329.7" y2="1237.3" stroke="#000" stroke-width="4" stroke-linecap="round"/>
<line x1="1313.9" y1="1323.2" x2="1313.9" y2="1396.6" stroke="#000" stroke-width="4"/>
<line x1="1298.2" y1="1396.6" x2="1329.7" y2="1396.6" stroke="#000" stroke-width="4" stroke-linecap="round"/>
<rect x="1284.8" y="1244.5" width="58.2" height="78.7" fill="#fcfcfc" stroke="#000" stroke-width="4"/>
<line x1="1284.8" y1="1253" x2="1343" y2="1253" stroke="#000" stroke-width="4"/>
<circle cx="1320.2" cy="1248.8" r="10.9" fill="#fcfcfc" stroke="#000" stroke-width="4.2"/>
<circle cx="1293.3" cy="1236.8" r="10.9" fill="#fcfcfc" stroke="#000" stroke-width="4.2"/>
<circle cx="1307" cy="1252.9" r="10.9" fill="#fcfcfc" stroke="#000" stroke-width="4.2"/>
<circle cx="1334" cy="1254.2" r="10.9" fill="#fcfcfc" stroke="#000" stroke-width="4.2"/>
<circle cx="1313.9" cy="1396.6" r="10.9" fill="#fcfcfc" stroke="#000" stroke-width="4.2"/>
<line x1="1408.2" y1="1152.7" x2="1408.2" y2="1207.5" stroke="#000" stroke-width="4"/>
<line x1="1392.5" y1="1152.7" x2="1424" y2="1152.7" stroke="#000" stroke-width="4" stroke-linecap="round"/>
<line x1="1408.2" y1="1340.8" x2="1408.2" y2="1366.8" stroke="#000" stroke-width="4"/>
<line x1="1392.5" y1="1366.8" x2="1424" y2="1366.8" stroke="#000" stroke-width="4" stroke-linecap="round"/>
<rect x="1379.5" y="1207.5" width="57.5" height="133.3" fill="#fe88da" stroke="#000" stroke-width="4"/>
<line x1="1379.5" y1="1311.2" x2="1437" y2="1311.2" stroke="#000" stroke-width="4"/>
<circle cx="1408" cy="1152.7" r="10.9" fill="#fe88da" stroke="#000" stroke-width="4.2"/>
<circle cx="1408" cy="1256.8" r="10.9" fill="#fe88da" stroke="#000" stroke-width="4.2"/>
<circle cx="1387.8" cy="1310.4" r="10.9" fill="#fe88da" stroke="#000" stroke-width="4.2"/>
<circle cx="1428" cy="1319.7" r="10.9" fill="#fe88da" stroke="#000" stroke-width="4.2"/>
<circle cx="1408" cy="1366.8" r="10.9" fill="#fe88da" stroke="#000" stroke-width="4.2"/>
<text x="0" y="1641" font-size="42" font-weight="bold">i</text>
<line x1="149.8" y1="1736.2" x2="149.8" y2="2069.2" stroke="#000" stroke-width="4.3"/>
<line x1="131.8" y1="1738.4" x2="149.8" y2="1738.4" stroke="#000" stroke-width="4.3"/>
<text x="117.5" y="1750.2" font-size="33" text-anchor="end">200</text>
<line x1="131.8" y1="1820.6" x2="149.8" y2="1820.6" stroke="#000" stroke-width="4.3"/>
<text x="117.5" y="1832.4" font-size="33" text-anchor="end">150</text>
<line x1="131.8" y1="1902.8" x2="149.8" y2="1902.8" stroke="#000" stroke-width="4.3"/>
<text x="117.5" y="1914.6" font-size="33" text-anchor="end">100</text>
<line x1="131.8" y1="1984.9" x2="149.8" y2="1984.9" stroke="#000" stroke-width="4.3"/>
<text x="117.5" y="1996.7" font-size="33" text-anchor="end">50</text>
<line x1="131.8" y1="2067.1" x2="149.8" y2="2067.1" stroke="#000" stroke-width="4.3"/>
<text x="117.5" y="2078.9" font-size="33" text-anchor="end">0</text>
<line x1="131.8" y1="2067.1" x2="369.3" y2="2067.1" stroke="#000" stroke-width="4.3"/>
<text x="33.1" y="1903.8" font-size="33" text-anchor="middle" transform="rotate(-90 33.1 1903.8)" letter-spacing="0.45">ALT (IU/l)</text>
<line x1="212.4" y1="1845.2" x2="212.4" y2="1851.3" stroke="#000" stroke-width="4"/>
<line x1="196.6" y1="1845.2" x2="228.1" y2="1845.2" stroke="#000" stroke-width="4" stroke-linecap="round"/>
<line x1="212.4" y1="1892.9" x2="212.4" y2="1912" stroke="#000" stroke-width="4"/>
<line x1="196.6" y1="1912" x2="228.1" y2="1912" stroke="#000" stroke-width="4" stroke-linecap="round"/>
<rect x="183.2" y="1851.3" width="58.4" height="41.6" fill="#fcfcfc" stroke="#000" stroke-width="4"/>
<line x1="183.2" y1="1873" x2="241.6" y2="1873" stroke="#000" stroke-width="4"/>
<circle cx="192.2" cy="1845.2" r="10.9" fill="#fcfcfc" stroke="#000" stroke-width="4.2"/>
<circle cx="232.8" cy="1851.3" r="10.9" fill="#fcfcfc" stroke="#000" stroke-width="4.2"/>
<circle cx="192.2" cy="1873" r="10.9" fill="#fcfcfc" stroke="#000" stroke-width="4.2"/>
<circle cx="232.8" cy="1878.4" r="10.9" fill="#fcfcfc" stroke="#000" stroke-width="4.2"/>
<circle cx="212.1" cy="1912" r="10.9" fill="#fcfcfc" stroke="#000" stroke-width="4.2"/>
<line x1="306.8" y1="1796.5" x2="306.8" y2="1801.1" stroke="#000" stroke-width="4"/>
<line x1="291.1" y1="1796.5" x2="322.6" y2="1796.5" stroke="#000" stroke-width="4" stroke-linecap="round"/>
<line x1="306.8" y1="1921.6" x2="306.8" y2="1952.1" stroke="#000" stroke-width="4"/>
<line x1="291.1" y1="1952.1" x2="322.6" y2="1952.1" stroke="#000" stroke-width="4" stroke-linecap="round"/>
<rect x="278" y="1801.1" width="57.6" height="120.5" fill="#fe88da" stroke="#000" stroke-width="4"/>
<line x1="278" y1="1873" x2="335.6" y2="1873" stroke="#000" stroke-width="4"/>
<circle cx="286.3" cy="1795.7" r="10.9" fill="#fe88da" stroke="#000" stroke-width="4.2"/>
<circle cx="326.9" cy="1800.2" r="10.9" fill="#fe88da" stroke="#000" stroke-width="4.2"/>
<circle cx="306.7" cy="1873" r="10.9" fill="#fe88da" stroke="#000" stroke-width="4.2"/>
<circle cx="306.7" cy="1895.6" r="10.9" fill="#fe88da" stroke="#000" stroke-width="4.2"/>
<circle cx="306.7" cy="1952.1" r="10.9" fill="#fe88da" stroke="#000" stroke-width="4.2"/>
<text x="532.5" y="1641" font-size="42" font-weight="bold">j</text>
<rect x="776.4" y="1689.1" width="128.5" height="63.4" fill="#fdd3ee"/>
<rect x="840.4" y="1689.1" width="64.5" height="63.4" fill="#fcb3e4"/>
<text x="763.5" y="1730.8" font-size="23" text-anchor="end" letter-spacing="1"><tspan dy="0">CD45</tspan><tspan font-size="16" dy="-8">+</tspan></text>
<rect x="776.4" y="1751.9" width="128.5" height="64.9" fill="#ffffff"/>
<rect x="840.4" y="1751.9" width="64.5" height="64.9" fill="#fcb0e2"/>
<text x="763.5" y="1794.2" font-size="23" text-anchor="end" letter-spacing="1"><tspan dy="0">CD3</tspan><tspan font-size="16" dy="-8">+</tspan><tspan dy="8">CD4</tspan><tspan font-size="16" dy="-8">+</tspan></text>
<rect x="776.4" y="1816.2" width="128.5" height="64.4" fill="#fddbf1"/>
<rect x="840.4" y="1816.2" width="64.5" height="64.4" fill="#fd88d8"/>
<text x="763.5" y="1857.9" font-size="23" text-anchor="end" letter-spacing="1"><tspan dy="0">CD3</tspan><tspan font-size="16" dy="-8">+</tspan><tspan dy="8">CD8</tspan><tspan font-size="16" dy="-8">+</tspan></text>
<rect x="776.4" y="1880" width="128.5" height="61.1" fill="#fde4f3"/>
<rect x="840.4" y="1880" width="64.5" height="61.1" fill="#fcd0ed"/>
<text x="763.5" y="1921.4" font-size="23" text-anchor="end" letter-spacing="1"><tspan dy="0">F4/80</tspan><tspan font-size="16" dy="-8">+</tspan><tspan dy="8">CD11b</tspan><tspan font-size="16" dy="-8">+</tspan></text>
<rect x="776.4" y="1940.5" width="128.5" height="63.7" fill="#fd88d8"/>
<rect x="840.4" y="1940.5" width="64.5" height="63.7" fill="#fd88d8"/>
<text x="763.5" y="1981.4" font-size="23" text-anchor="end" letter-spacing="1"><tspan dy="0">F4/80</tspan><tspan font-size="16" dy="-8">+</tspan><tspan dy="8">CD11b</tspan><tspan font-size="16" dy="-8">+</tspan><tspan dy="8">IL6</tspan><tspan font-size="16" dy="-8">+</tspan></text>
<rect x="776.4" y="2003.6" width="128.5" height="64.9" fill="#fcb9e6"/>
<rect x="840.4" y="2003.6" width="64.5" height="64.9" fill="#fdedf7"/>
<text x="763.5" y="2044.2" font-size="23" text-anchor="end" letter-spacing="1"><tspan dy="0">F4/80</tspan><tspan font-size="16" dy="-8">+</tspan><tspan dy="8">CD11b</tspan><tspan font-size="16" dy="-8">+</tspan><tspan dy="8">TNF&#945;</tspan><tspan font-size="16" dy="-8">+</tspan></text>
<text x="841" y="1648" font-size="25.5" text-anchor="middle" letter-spacing="0.5">Liver</text>
<line x1="812" y1="1650.8" x2="870" y2="1650.8" stroke="#000" stroke-width="1.3"/>
<text x="804.9" y="1679.4" font-size="21.6" text-anchor="middle" letter-spacing="0.6">Ctrl</text>
<text x="874" y="1679.4" font-size="21.6" text-anchor="middle" letter-spacing="0.6">Cre+</text>
<rect x="777.7" y="2076.3" width="127.1" height="20.5" fill="url(#cb)" stroke="#000" stroke-width="3.2"/>
<line x1="827" y1="2076.3" x2="827" y2="2079.3" stroke="#000" stroke-width="1.6"/>
<line x1="827" y1="2093.8" x2="827" y2="2096.8" stroke="#000" stroke-width="1.6"/>
<line x1="876.4" y1="2076.3" x2="876.4" y2="2079.3" stroke="#000" stroke-width="1.6"/>
<line x1="876.4" y1="2093.8" x2="876.4" y2="2096.8" stroke="#000" stroke-width="1.6"/>
<text x="775" y="2122.7" font-size="19" text-anchor="middle">Min</text>
<text x="906.2" y="2122.7" font-size="19" text-anchor="middle">Max</text>
</svg>
</body></html>
